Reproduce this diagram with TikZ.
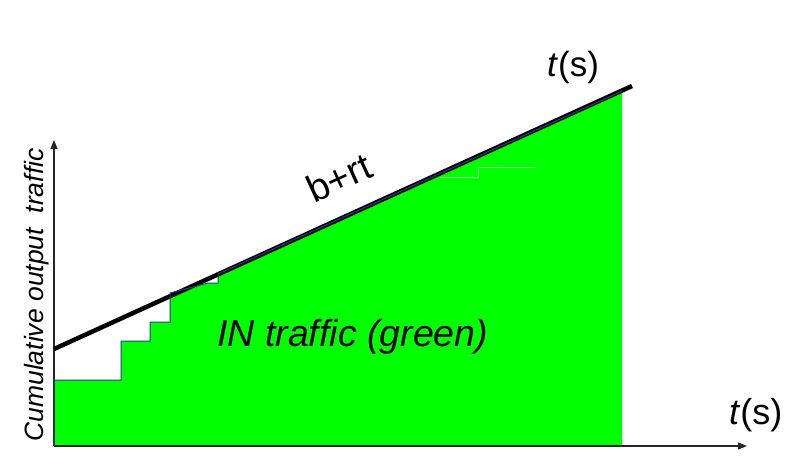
\documentclass[tikz,border=0pt]{standalone}
\usepackage{fontspec}
\setmainfont{Liberation Sans}
\usetikzlibrary{arrows.meta}
\definecolor{ingreen}{HTML}{00FF00}
\definecolor{stepblue}{HTML}{333399}
\tikzset{
  axisline/.style={draw=black!85, line width=1.2pt, -{Triangle[length=9pt,width=7pt]}},
  envline/.style={draw=black, line width=4.5pt},
  stepline/.style={draw=stepblue, line width=1pt, line join=miter},
  faint/.style={draw=ingreen!45!white, line width=0.6pt},
  lbl/.style={inner sep=0pt, font=\fontsize{35}{42}\selectfont},
}
\begin{document}
\begin{tikzpicture}[x=1pt,y=-1pt]
\useasboundingbox (0,0) rectangle (795,474);
% coordinates
\coordinate (O) at (54,446);
\coordinate (Ytop) at (54,140);
\coordinate (Xend) at (747,446);
\coordinate (Lstart) at (54,349);
\coordinate (Lend) at (632,86);
% green area (IN traffic)
\fill[ingreen] (O) -- (54,380) -- (121,380) -- (121,341) -- (150,341) -- (150,322) -- (170,322) -- (170,293) -- (208,283) -- (218,283) -- (218,274) -- (622,91) -- (622,446) -- cycle;
% faint artefact lines
\draw[faint] (440,177) -- (478,177) -- (478,167.5) -- (536,167.5);
% axes
\draw[axisline] (O) -- (Ytop);
\draw[axisline] (O) -- (Xend);
% envelope b+rt
\draw[envline] (Lstart) -- (Lend);
% staircase outline
\draw[stepline] (O) -- (54,380) -- (121,380) -- (121,341) -- (150,341) -- (150,322) -- (170,322) -- (170,293) -- (208,283) -- (218,283) -- (218,274) -- (622,91);
% labels
\node[lbl, anchor=base west] (ttop) at (547,76) {\textit{t}(s)};
\node[lbl, anchor=base west, font=\fontsize{36}{43}\selectfont] (tbot) at (729,424) {\textit{t}(s)};
\node[lbl, anchor=base west, rotate=24.5, font=\fontsize{38}{45}\selectfont] (brt) at (314,204) {b+rt};
\node[lbl, anchor=base west, font=\fontsize{37.5}{45}\selectfont\itshape] (intr) at (217,346) {IN traffic (green)};
\node[inner sep=0pt, anchor=base, rotate=90, font=\fontsize{26.5}{32}\selectfont\itshape] (ylab) at (43,295) {Cumulative output~~traffic};
\end{tikzpicture}
\end{document}
